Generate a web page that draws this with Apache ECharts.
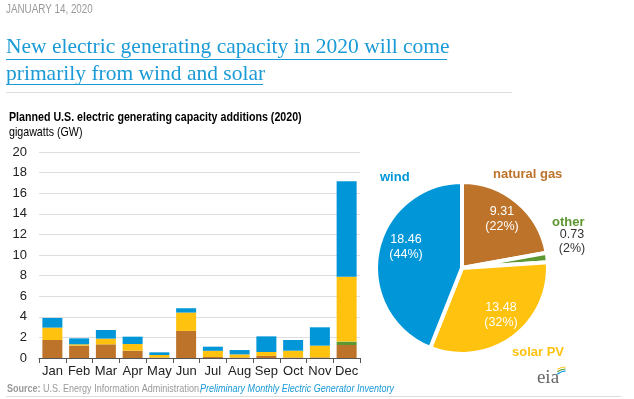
<!DOCTYPE html>
<html>
<head>
<meta charset="utf-8">
<script src="https://cdn.jsdelivr.net/npm/echarts@6/dist/echarts.min.js"></script>
<style>
  html, body { margin: 0; padding: 0; background: #fff; }
  #main { width: 634px; height: 399px; }
</style>
</head>
<body>
<div id="main"></div>
<script>
// monthly additions (GW)
const months = ['Jan', 'Feb', 'Mar', 'Apr', 'May', 'Jun', 'Jul', 'Aug', 'Sep', 'Oct', 'Nov', 'Dec'];
const gasMonthly = [1.75, 1.2, 1.33, 0.71, 0.05, 2.63, 0.1, 0.05, 0.2, 0.05, 0.06, 1.26];
const otherMonthly = [0, 0, 0, 0, 0, 0, 0, 0, 0, 0, 0, 0.33];
const solarMonthly = [1.2, 0.13, 0.55, 0.65, 0.24, 1.78, 0.6, 0.3, 0.38, 0.66, 1.14, 6.29];
const windMonthly = [0.94, 0.58, 0.84, 0.71, 0.26, 0.42, 0.4, 0.42, 1.52, 1.04, 1.78, 9.27];

// yearly totals for the pie
const fuelNames = ['natural gas', 'other', 'solar PV', 'wind'];
const fuelTotals = [9.31, 0.73, 13.48, 18.46];
const fuelShares = [22, 2, 32, 44];

const yTicks = [0, 20, 2]; // min, max, step

const COLORS = {
    gas: '#bd732a',
    other: '#5d9732',
    solar: '#ffc20e',
    wind: '#0096d7'
};
const fuelColors = [COLORS.gas, COLORS.other, COLORS.solar, COLORS.wind];

const ARIAL = "'Liberation Sans', Arial, sans-serif";
const SERIF = "'Liberation Serif', 'Times New Roman', serif";
// no Arial Narrow here, so squeeze Arial horizontally instead
const NARROW_SCALE = 0.82;

function valueLabel(i) {
    return fuelTotals[i] + '\n(' + fuelShares[i] + '%)';
}

function txt(x, y, text, opts, scaleX) {
    return {
        type: 'text',
        x: x,
        y: y,
        z: 100,
        scaleX: scaleX || 1,
        silent: true,
        style: Object.assign({
            text: text,
            fill: '#333',
            fontFamily: ARIAL,
            fontSize: 12,
            textAlign: 'left',
            textVerticalAlign: 'middle'
        }, opts || {})
    };
}

function narrow(x, y, text, opts) {
    return txt(x, y, text, opts, NARROW_SCALE);
}

function hline(x1, x2, y, color, w) {
    return {
        type: 'line',
        silent: true,
        z: 100,
        shape: { x1: x1, y1: y, x2: x2, y2: y },
        style: { stroke: color, lineWidth: w || 1 }
    };
}

const chart = echarts.init(document.getElementById('main'));

const barSeries = [
    { name: 'natural gas', data: gasMonthly, color: COLORS.gas },
    { name: 'other', data: otherMonthly, color: COLORS.other },
    { name: 'solar PV', data: solarMonthly, color: COLORS.solar },
    { name: 'wind', data: windMonthly, color: COLORS.wind }
].map(s => ({
    type: 'bar',
    name: s.name,
    stack: 'total',
    data: s.data,
    barWidth: 20,
    itemStyle: { color: s.color },
    silent: true
}));

const pieData = fuelNames.map((n, i) => ({
    name: n,
    value: fuelTotals[i],
    itemStyle: { color: fuelColors[i] }
}));

const graphics = [
    // header
    narrow(6, 10, 'JANUARY 14, 2020', { fill: '#999', fontSize: 12 }),
    txt(6, 47, 'New electric generating capacity in 2020 will come', {
        fill: '#1a9ad6', fontFamily: SERIF, fontSize: 21.5
    }),
    txt(6, 74, 'primarily from wind and solar', {
        fill: '#1a9ad6', fontFamily: SERIF, fontSize: 21.5
    }),
    hline(6, 447, 59.5, '#1a9ad6'),
    hline(6, 263, 84.5, '#1a9ad6'),
    hline(6, 512, 92.5, '#ddd'),
    narrow(9, 117, 'Planned U.S. electric generating capacity additions (2020)', {
        fill: '#000', fontSize: 13, fontWeight: 'bold'
    }),
    narrow(9, 132, 'gigawatts (GW)', { fill: '#000', fontSize: 13 }),

    // pie annotations
    txt(380, 177, 'wind', { fill: COLORS.wind, fontWeight: 'bold', fontSize: 13 }),
    txt(493, 174, 'natural gas', { fill: COLORS.gas, fontWeight: 'bold', fontSize: 13 }),
    txt(552, 222, 'other', { fill: COLORS.other, fontWeight: 'bold', fontSize: 13 }),
    txt(512, 352, 'solar PV', { fill: COLORS.solar, fontWeight: 'bold', fontSize: 13 }),
    txt(406, 247, valueLabel(3), { fill: '#fff', textAlign: 'center', lineHeight: 15, fontSize: 12.5 }),
    txt(502, 219, valueLabel(0), { fill: '#fff', textAlign: 'center', lineHeight: 15, fontSize: 12.5 }),
    txt(501, 315, valueLabel(2), { fill: '#fff', textAlign: 'center', lineHeight: 15, fontSize: 12.5 }),
    txt(572, 242, valueLabel(1), { fill: '#333', textAlign: 'center', lineHeight: 14, fontSize: 12.5 }),

    // eia logo
    txt(548, 378, 'eia', { fill: '#666', fontFamily: SERIF, fontSize: 19, textAlign: 'center' }),
    { type: 'arc', silent: true, z: 100, shape: { cx: 566, cy: 384, r: 17, startAngle: -2.1, endAngle: -1.6 },
      style: { stroke: '#ffc20e', lineWidth: 1.2, fill: null } },
    { type: 'arc', silent: true, z: 100, shape: { cx: 566, cy: 384, r: 15, startAngle: -2.2, endAngle: -1.6 },
      style: { stroke: '#5d9732', lineWidth: 1.2, fill: null } },
    { type: 'arc', silent: true, z: 100, shape: { cx: 566, cy: 384, r: 13, startAngle: -2.3, endAngle: -1.6 },
      style: { stroke: '#0096d7', lineWidth: 1.2, fill: null } },

    // footer
    narrow(7, 389, 'Source:', { fill: '#999', fontSize: 11, fontWeight: 'bold' }),
    narrow(43, 389, 'U.S. Energy Information Administration,', { fill: '#999', fontSize: 11 }),
    narrow(200, 389, 'Preliminary Monthly Electric Generator Inventory', {
        fill: '#1a9ad6', fontSize: 11, fontStyle: 'italic'
    }),
    hline(6, 621, 396.5, '#ddd')
];

chart.setOption({
    animation: false,
    grid: { left: 39, right: 274, top: 152, bottom: 41, containLabel: false },
    xAxis: {
        type: 'category',
        data: months,
        axisLine: { lineStyle: { color: '#555', width: 1 } },
        axisTick: { show: true, length: 5, lineStyle: { color: '#555' } },
        axisLabel: { color: '#222', fontSize: 13, fontFamily: ARIAL, margin: 7, interval: 0 }
    },
    yAxis: {
        type: 'value',
        min: yTicks[0],
        max: yTicks[1],
        interval: yTicks[2],
        axisLine: { show: false },
        axisTick: { show: false },
        splitLine: { lineStyle: { color: '#dedede', width: 1 } },
        axisLabel: { color: '#222', fontSize: 13, fontFamily: ARIAL, margin: 12 }
    },
    series: barSeries.concat([{
        type: 'pie',
        center: [462, 268],
        radius: [0, 86],
        startAngle: 90,
        clockwise: true,
        silent: true,
        label: { show: false },
        labelLine: { show: false },
        itemStyle: { borderColor: '#fff', borderWidth: 4 },
        data: pieData
    }]),
    graphic: graphics
});
</script>
</body>
</html>
